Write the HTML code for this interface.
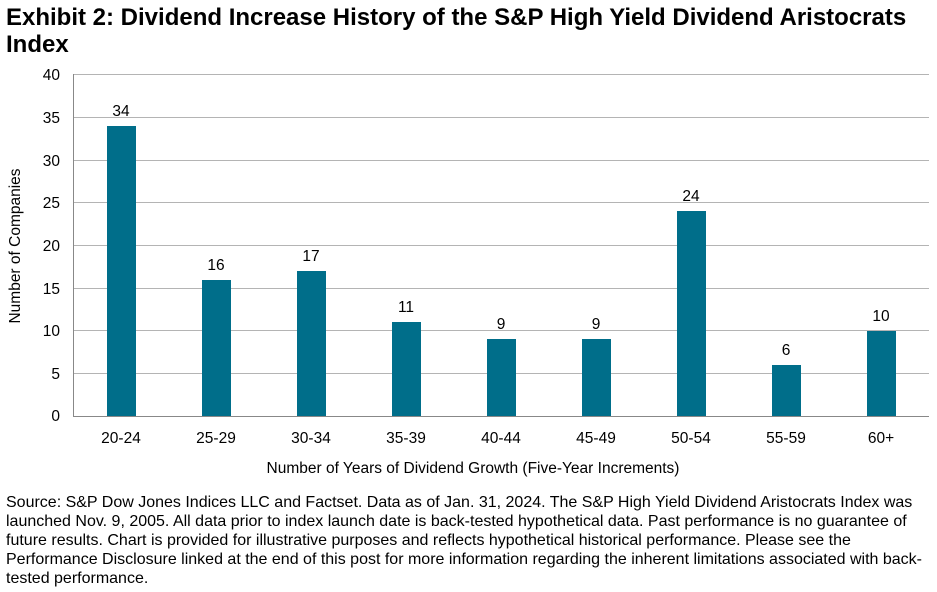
<!DOCTYPE html>
<html><head><meta charset="utf-8"><style>
body{margin:0;background:#fff;width:937px;height:592px;overflow:hidden;font-family:"Liberation Sans",Arial,sans-serif;}
.t{position:absolute;left:6px;top:4px;font-weight:bold;font-size:24px;line-height:27px;color:#000;width:925px}
.f{position:absolute;left:6px;top:493px;font-size:16px;line-height:19px;color:#000;width:935px;white-space:nowrap}
</style></head><body>
<div class="t">Exhibit 2: Dividend Increase History of the S&amp;P High Yield Dividend Aristocrats Index</div>
<svg width="937" height="592" style="position:absolute;left:0;top:0" font-family="Liberation Sans, Arial, sans-serif" font-size="15.5">
<g stroke="#b4b4b4">
<line x1="73" y1="74.5" x2="929" y2="74.5"/><line x1="73" y1="117.5" x2="929" y2="117.5"/><line x1="73" y1="160.5" x2="929" y2="160.5"/><line x1="73" y1="202.5" x2="929" y2="202.5"/><line x1="73" y1="245.5" x2="929" y2="245.5"/><line x1="73" y1="288.5" x2="929" y2="288.5"/><line x1="73" y1="330.5" x2="929" y2="330.5"/><line x1="73" y1="373.5" x2="929" y2="373.5"/>
</g>
<g text-anchor="end">
<text x="60" y="421">0</text><text x="60" y="379">5</text><text x="60" y="336">10</text><text x="60" y="294">15</text><text x="60" y="251">20</text><text x="60" y="208">25</text><text x="60" y="166">30</text><text x="60" y="123">35</text><text x="60" y="80">40</text>
</g>
<line x1="73.5" y1="74" x2="73.5" y2="416" stroke="#888"/>
<line x1="73" y1="416.5" x2="929" y2="416.5" stroke="#888"/>
<g fill="#006E8A">
<rect x="107" y="126" width="29" height="290"/>
<rect x="202" y="280" width="29" height="136"/>
<rect x="297" y="271" width="29" height="145"/>
<rect x="392" y="322" width="29" height="94"/>
<rect x="487" y="339" width="29" height="77"/>
<rect x="582" y="339" width="29" height="77"/>
<rect x="677" y="211" width="29" height="205"/>
<rect x="772" y="365" width="29" height="51"/>
<rect x="867" y="331" width="29" height="85"/>
</g>
<g text-anchor="middle">
<text x="121" y="116">34</text><text x="216" y="270">16</text><text x="311" y="261">17</text><text x="406" y="312">11</text><text x="501" y="329">9</text><text x="596" y="329">9</text><text x="691" y="201">24</text><text x="786" y="355">6</text><text x="881" y="321">10</text>
<text x="121" y="443">20-24</text><text x="216" y="443">25-29</text><text x="311" y="443">30-34</text><text x="406" y="443">35-39</text><text x="501" y="443">40-44</text><text x="596" y="443">45-49</text><text x="691" y="443">50-54</text><text x="786" y="443">55-59</text><text x="881" y="443">60+</text>
<text x="473" y="473">Number of Years of Dividend Growth (Five-Year Increments)</text>
<text transform="translate(20,246) rotate(-90)">Number of Companies</text>
</g>
</svg>
<div class="f">Source: S&amp;P Dow Jones Indices LLC and Factset. Data as of Jan. 31, 2024. The S&amp;P High Yield Dividend Aristocrats Index was<br>launched Nov. 9, 2005. All data prior to index launch date is back-tested hypothetical data. Past performance is no guarantee of<br>future results. Chart is provided for illustrative purposes and reflects hypothetical historical performance. Please see the<br>Performance Disclosure linked at the end of this post for more information regarding the inherent limitations associated with back-<br>tested performance.</div>
</body></html>
